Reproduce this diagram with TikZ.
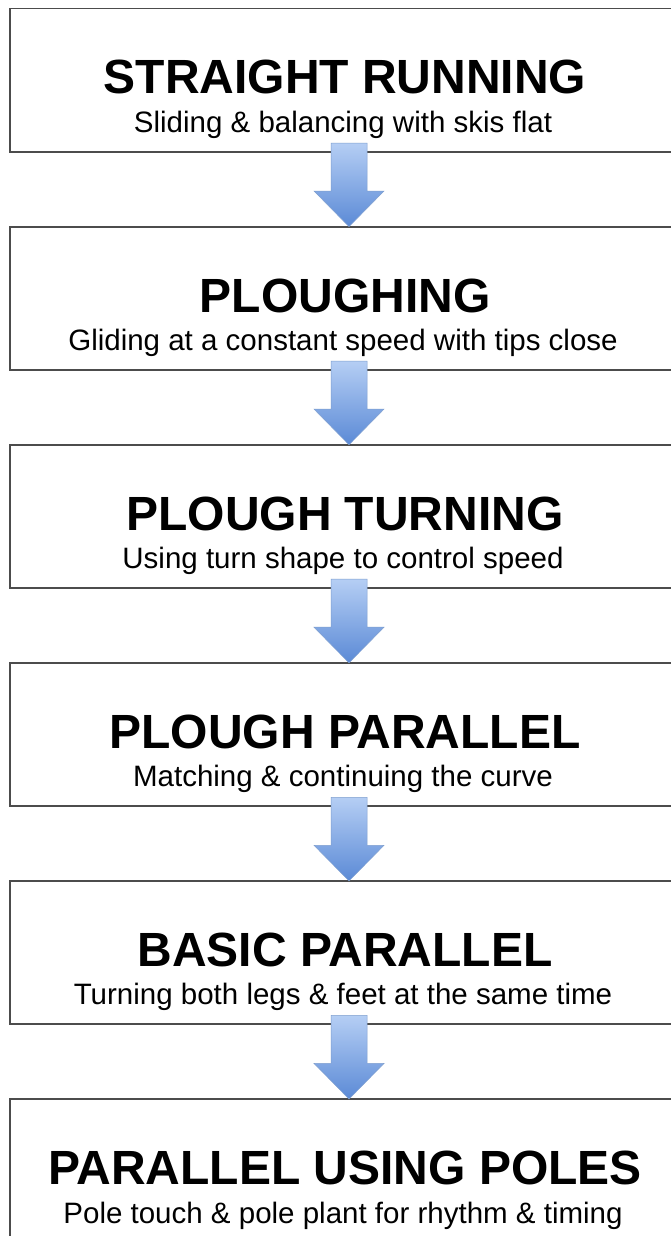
\documentclass[tikz,border=0pt]{standalone}
\usepackage{fontspec}
\setmainfont{Liberation Sans}
\usetikzlibrary{calc}
\definecolor{boxline}{HTML}{4C4C4C}
\definecolor{arrowtop}{HTML}{B5CEF4}
\definecolor{arrowbot}{HTML}{5B8AD6}
\definecolor{arrowedge}{HTML}{7F9FCF}
\tikzset{
  stepbox/.style={draw=boxline, line width=1.9pt, minimum width=670pt, minimum height=143.5pt, anchor=north west, inner sep=0pt, outer sep=0pt},
  titletext/.style={anchor=base, inner sep=0pt, font=\fontsize{48}{48}\selectfont\bfseries},
  subtext/.style={anchor=base, inner sep=0pt, font=\fontsize{29.5}{30}\selectfont},
  flowarrow/.style={top color=arrowtop, bottom color=arrowbot, draw=arrowedge, line width=0.5pt}
}
\begin{document}
\begin{tikzpicture}[x=1pt,y=1pt]
\useasboundingbox (0,0) rectangle (671,-1236);
\clip (0,0) rectangle (671,-1236);
\fill[white] (0,0) rectangle (671,-1236);
\foreach \i/\t in {1/8.5,2/226.6,3/444.7,4/662.8,5/880.9,6/1099}{
  \node[stepbox] (b\i) at (10,-\t) {};
}
\foreach \i/\ti/\su in {
  1/{STRAIGHT RUNNING}/{Sliding \& balancing with skis flat},
  2/{PLOUGHING}/{Gliding at a constant speed with tips close},
  3/{PLOUGH TURNING}/{Using turn shape to control speed},
  4/{PLOUGH PARALLEL}/{Matching \& continuing the curve},
  5/{BASIC PARALLEL}/{Turning both legs \& feet at the same time},
  6/{PARALLEL USING POLES}/{Pole touch \& pole plant for rhythm \& timing}}{
  \node[titletext] (t\i) at ($(b\i.north)+(0,-85.5)$) {\ti};
  \node[subtext] (s\i) at ($(b\i.north)+(-2,-124)$) {\su};
}
\foreach \i/\j in {1/2,2/3,3/4,4/5,5/6}{
  \shade[flowarrow]
    ($(b\i.south)+(-14,9)$) -- ($(b\i.south)+(22,9)$) -- ($(b\i.south)+(22,-39)$)
    -- ($(b\i.south)+(39,-39)$) -- ($(b\j.north)+(4,0)$) -- ($(b\i.south)+(-31,-39)$)
    -- ($(b\i.south)+(-14,-39)$) -- cycle;
}
\end{tikzpicture}
\end{document}
